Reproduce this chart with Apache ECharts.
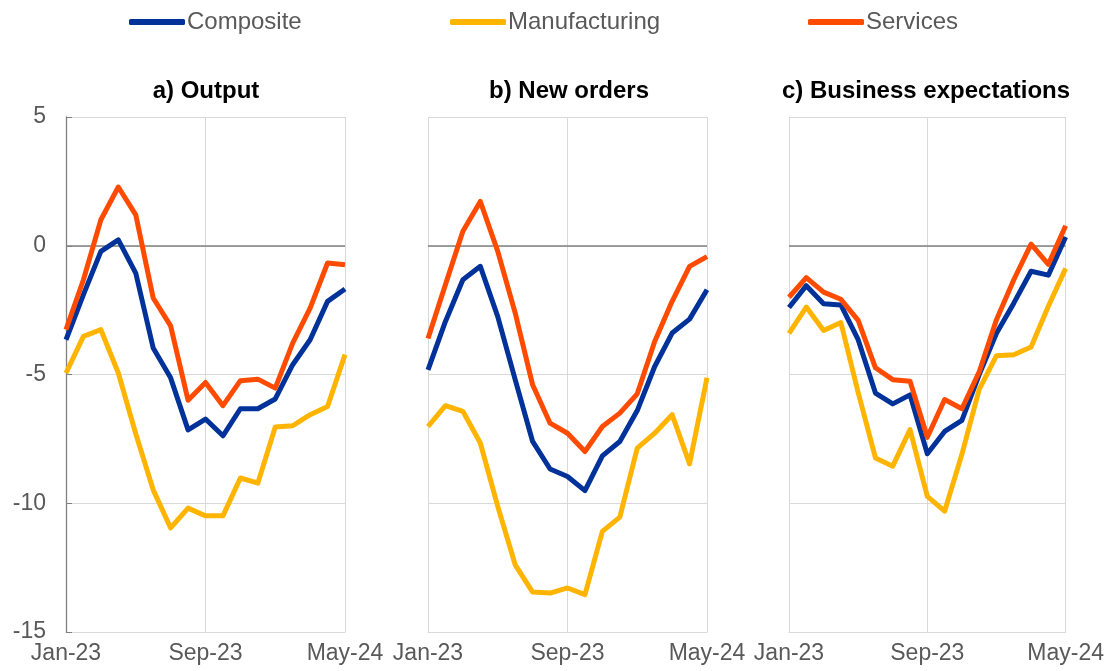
<!DOCTYPE html>
<html>
<head>
<meta charset="utf-8">
<script src="https://cdn.jsdelivr.net/npm/echarts@6/dist/echarts.min.js"></script>
<style>html,body{margin:0;padding:0;background:#fff;}#c{width:1107px;height:671px;}</style>
</head>
<body>
<div id="c"></div>
<script>
const months = ['Jan-23','Feb-23','Mar-23','Apr-23','May-23','Jun-23','Jul-23','Aug-23','Sep-23','Oct-23','Nov-23','Dec-23','Jan-24','Feb-24','Mar-24','Apr-24','May-24'];
const panelTitles = ['a) Output','b) New orders','c) Business expectations'];
const seriesNames = ['Composite','Manufacturing','Services'];
const yTicks = [-15,-10,-5,0,5];

const compOutput = [-3.65,-1.9,-0.22,0.23,-1.06,-3.97,-5.13,-7.15,-6.73,-7.38,-6.33,-6.33,-5.95,-4.62,-3.65,-2.16,-1.68];
const manuOutput = [-4.94,-3.52,-3.26,-4.94,-7.3,-9.48,-10.96,-10.19,-10.49,-10.49,-9.02,-9.22,-7.04,-6.99,-6.56,-6.24,-4.23];
const servOutput = [-3.26,-1.32,1.01,2.28,1.2,-2.03,-3.11,-6.0,-5.31,-6.21,-5.24,-5.18,-5.53,-3.78,-2.42,-0.67,-0.74];

const compOrders = [-4.82,-2.94,-1.32,-0.8,-2.75,-5.2,-7.6,-8.67,-8.96,-9.51,-8.16,-7.6,-6.4,-4.69,-3.39,-2.85,-1.71];
const manuOrders = [-7.02,-6.21,-6.43,-7.66,-10.12,-12.39,-13.45,-13.49,-13.29,-13.55,-11.09,-10.54,-7.86,-7.28,-6.56,-8.47,-5.13];
const servOrders = [-3.6,-1.51,0.56,1.72,-0.22,-2.61,-5.4,-6.89,-7.28,-7.99,-7.02,-6.5,-5.75,-3.72,-2.16,-0.8,-0.42];

const compExpect = [-2.4,-1.55,-2.25,-2.3,-3.65,-5.72,-6.14,-5.79,-8.08,-7.21,-6.78,-5.0,-3.4,-2.23,-0.99,-1.14,0.34];
const manuExpect = [-3.4,-2.38,-3.29,-2.98,-5.7,-8.24,-8.56,-7.14,-9.73,-10.31,-8.1,-5.58,-4.27,-4.23,-3.93,-2.35,-0.88];
const servExpect = [-2.0,-1.24,-1.8,-2.08,-2.9,-4.74,-5.2,-5.26,-7.44,-5.97,-6.33,-4.9,-2.87,-1.32,0.06,-0.72,0.78];

const panelData = [
  [compOutput, manuOutput, servOutput],
  [compOrders, manuOrders, servOrders],
  [compExpect, manuExpect, servExpect]
];

const colors = ['#003299','#FFB400','#FF4B00'];
const FONT = 'Liberation Sans, Arial, sans-serif';
const lefts = [66, 428, 789];
const titleCenters = [201, 564, 921];
const W = 279;
const light = '#d9d9d9';
const dark = '#808080';

const grids = [], xAxes = [], yAxes = [], series = [], titles = [];
lefts.forEach((l, p) => {
  grids.push({left: l, width: W, top: 117, bottom: 39, containLabel: false});
  titles.push({
    text: panelTitles[p], left: titleCenters[p], top: 74, textAlign: 'center',
    textStyle: {fontFamily: FONT, fontSize: 24, fontWeight: 'bold', color: '#000'}
  });
  xAxes.push({
    type: 'category', gridIndex: p, data: months, boundaryGap: false,
    axisLine: {show: true, onZero: false, lineStyle: {color: light, width: 1}},
    axisTick: {show: false},
    axisLabel: {interval: 7, color: '#595959', fontFamily: FONT, fontSize: 23, margin: 10, showMaxLabel: true, showMinLabel: true},
    splitLine: {show: true, interval: 7, lineStyle: {color: light, width: 1}}
  });
  yAxes.push({
    type: 'value', gridIndex: p, min: yTicks[0], max: yTicks[yTicks.length - 1], interval: 5,
    axisLine: {show: p === 0, lineStyle: {color: dark, width: 1.3}},
    axisTick: {show: p === 0, inside: true, length: 6, lineStyle: {color: dark}},
    axisLabel: {show: p === 0, color: '#595959', fontFamily: FONT, fontSize: 23, margin: 20},
    splitLine: {show: true, lineStyle: {color: light, width: 1}}
  });
  panelData[p].forEach((arr, s) => {
    const ser = {
      name: seriesNames[s], type: 'line', xAxisIndex: p, yAxisIndex: p,
      data: arr, showSymbol: false, symbol: 'none',
      lineStyle: {color: colors[s], width: 5, join: 'round'},
      itemStyle: {color: colors[s]}, animation: false, z: 3 + s
    };
    if (s === 0) {
      ser.markLine = {
        silent: true, symbol: 'none', label: {show: false}, z: 2,
        lineStyle: {color: dark, type: 'solid', width: 1.5},
        data: [{yAxis: 0}], animation: false
      };
    }
    series.push(ser);
  });
});

const legendLefts = [124, 445, 803];
const legends = seriesNames.map((n, i) => ({
  data: [n], left: legendLefts[i], top: 5, icon: 'roundRect', itemWidth: 56, itemHeight: 6,
  textStyle: {fontFamily: FONT, fontSize: 24, color: '#595959', padding: [0,0,0,-3]}
}));

const chart = echarts.init(document.getElementById('c'), null, {renderer: 'canvas'});
chart.setOption({
  animation: false,
  backgroundColor: '#fff',
  title: titles,
  legend: legends,
  grid: grids,
  xAxis: xAxes,
  yAxis: yAxes,
  series: series
});
</script>
</body>
</html>
